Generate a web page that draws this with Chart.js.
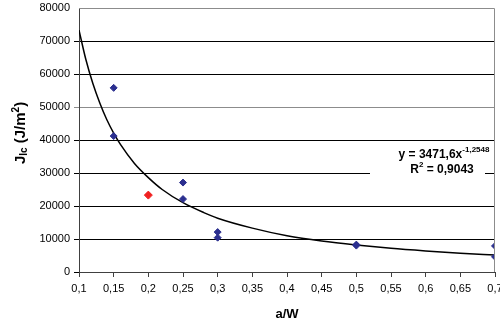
<!DOCTYPE html>
<html>
<head>
<meta charset="utf-8">
<script src="https://cdn.jsdelivr.net/npm/chart.js@4/dist/chart.umd.min.js"></script>
<style>
  html, body { margin: 0; padding: 0; background: #fff; }
  #wrap { width: 500px; height: 324px; }
</style>
</head>
<body>
<div id="wrap"><canvas id="chart" width="500" height="324"></canvas></div>
<script>
// measured points (a/W vs J_Ic)
const blueX = [0.15, 0.15, 0.25, 0.25, 0.3, 0.3, 0.5, 0.5, 0.7, 0.7];
const blueY = [55800, 41200, 27100, 22100, 12100, 10400, 8300, 8000, 7900, 4600];
const redX  = [0.2];
const redY  = [23300];

// power trend line
const trendX = [0.1, 0.11, 0.12, 0.13, 0.14, 0.15, 0.16, 0.18, 0.2, 0.22, 0.25, 0.28, 0.3, 0.35, 0.4, 0.45, 0.5, 0.55, 0.6, 0.65, 0.7];
const trendY = [73300, 64300, 57100, 51200, 46200, 42100, 38600, 32900, 28600, 25000, 21000, 18000, 16300, 13300, 11000, 9400, 8200, 7200, 6400, 5700, 5150];

const yTicks = [0, 10000, 20000, 30000, 40000, 50000, 60000, 70000, 80000];
const eqLine1 = 'y = 3471,6x';
const eqExp   = '-1,2548';
const eqLine2 = 'R';
const eqR2    = ' = 0,9043';

const pts = (xs, ys) => xs.map((x, i) => ({ x, y: ys[i] }));
const fontFam = 'Arial, "Liberation Sans", sans-serif';

Chart.defaults.font.family = fontFam;
Chart.defaults.font.size = 11;
Chart.defaults.color = '#000';

// axis titles, plot border and the equation label
const extras = {
  id: 'extras',
  afterDraw(chart) {
    const c = chart.ctx;
    const a = chart.chartArea;
    c.save();
    // plot frame top/right
    c.strokeStyle = '#8c8c8c';
    c.lineWidth = 1;
    c.beginPath();
    c.moveTo(a.left, a.top + 0.5);
    c.lineTo(a.right - 0.5, a.top + 0.5);
    c.lineTo(a.right - 0.5, a.bottom);
    c.stroke();

    // x title
    c.fillStyle = '#000';
    c.font = 'bold 13px ' + fontFam;
    c.textAlign = 'center';
    c.textBaseline = 'middle';
    c.fillText('a/W', 287, 314);

    // y title, rotated, with sub/superscripts
    c.translate(21, 133);
    c.rotate(-Math.PI / 2);
    const parts = [
      { t: 'J', f: 'bold 15px ', dy: 0 },
      { t: 'Ic', f: 'bold 10px ', dy: 3 },
      { t: ' (J/m', f: 'bold 15px ', dy: 0 },
      { t: '2', f: 'bold 10px ', dy: -5 },
      { t: ')', f: 'bold 15px ', dy: 0 }
    ];
    let w = 0;
    parts.forEach(p => { c.font = p.f + fontFam; p.w = c.measureText(p.t).width; w += p.w; });
    let x = -w / 2;
    c.textAlign = 'left';
    parts.forEach(p => { c.font = p.f + fontFam; c.fillText(p.t, x, p.dy); x += p.w; });
    c.restore();

    // equation box
    c.save();
    c.fillStyle = '#fff';
    c.fillRect(370, 146, 115, 32);
    c.fillStyle = '#000';
    c.textBaseline = 'alphabetic';
    c.textAlign = 'left';
    c.font = 'bold 12px ' + fontFam;
    const w1 = c.measureText(eqLine1).width;
    c.font = 'bold 8px ' + fontFam;
    const w2 = c.measureText(eqExp).width;
    let sx = 444 - (w1 + w2) / 2;
    c.font = 'bold 12px ' + fontFam;
    c.fillText(eqLine1, sx, 158);
    c.font = 'bold 8px ' + fontFam;
    c.fillText(eqExp, sx + w1, 152);

    c.font = 'bold 12px ' + fontFam;
    const r1 = c.measureText(eqLine2).width;
    const r3 = c.measureText(eqR2).width;
    c.font = 'bold 8px ' + fontFam;
    const r2 = c.measureText('2').width;
    sx = 442 - (r1 + r2 + r3) / 2;
    c.font = 'bold 12px ' + fontFam;
    c.fillText(eqLine2, sx, 173);
    c.font = 'bold 8px ' + fontFam;
    c.fillText('2', sx + r1, 167);
    c.font = 'bold 12px ' + fontFam;
    c.fillText(eqR2, sx + r1 + r2, 173);
    c.restore();
  }
};

new Chart(document.getElementById('chart'), {
  type: 'scatter',
  data: {
    datasets: [
      {
        type: 'line',
        data: pts(trendX, trendY),
        borderColor: '#000',
        borderWidth: 1.5,
        pointRadius: 0,
        cubicInterpolationMode: 'monotone',
        fill: false,
        order: 2
      },
      {
        data: pts(blueX, blueY),
        pointStyle: 'rectRot',
        pointRadius: 3.5,
        backgroundColor: '#2b2f8f',
        borderColor: '#2b2f8f',
        borderWidth: 1,
        order: 1
      },
      {
        data: pts(redX, redY),
        pointStyle: 'rectRot',
        pointRadius: 4,
        backgroundColor: '#f02020',
        borderColor: '#f02020',
        borderWidth: 1,
        order: 0
      }
    ]
  },
  options: {
    responsive: false,
    animation: false,
    layout: { padding: { top: 8, right: 4, left: 0, bottom: 0 } },
    plugins: { legend: { display: false }, tooltip: { enabled: false } },
    scales: {
      x: {
        type: 'linear',
        min: 0.1,
        max: 0.7,
        ticks: {
          stepSize: 0.05,
          padding: 5,
          color: '#000',
          maxRotation: 0,
          callback: v => String(Math.round(v * 100) / 100).replace('.', ',')
        },
        grid: { drawOnChartArea: false, drawTicks: true, tickLength: 5, color: '#404040' },
        border: { color: '#404040', width: 1 },
        afterFit: s => { s.height = 52; s.paddingLeft = 0; s.paddingRight = 0; }
      },
      y: {
        min: 0,
        max: 80000,
        afterBuildTicks: s => { s.ticks = yTicks.map(v => ({ value: v })); },
        ticks: { padding: 4, color: '#000', callback: v => String(v) },
        grid: {
          tickLength: 5,
          lineWidth: 1,
          color: ctx => {
            const v = ctx.tick && ctx.tick.value;
            if (v === 50000) return '#8c8c8c';
            if (v === 80000) return 'rgba(0,0,0,0)';
            return '#000';
          }
        },
        border: { color: '#404040', width: 1 },
        afterFit: s => { s.width = 79; s.paddingTop = 0; s.paddingBottom = 0; }
      }
    }
  },
  plugins: [extras]
});
</script>
</body>
</html>
